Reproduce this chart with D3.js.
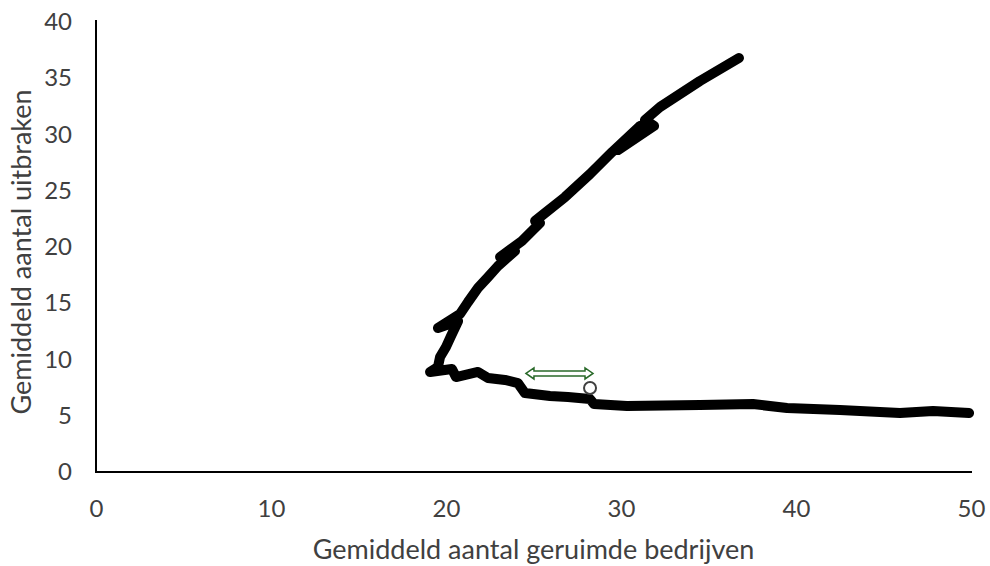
<!DOCTYPE html>
<html>
<head>
<meta charset="utf-8">
<script src="https://cdn.jsdelivr.net/npm/d3@7"></script>
<style>
  html, body { margin: 0; padding: 0; background: #fff; }
  svg { display: block; }
  text { font-family: Lato, "Open Sans", sans-serif; fill: #404040; }
</style>
</head>
<body>
<svg id="chart" width="990" height="566"></svg>
<script>
// Trajectory of the simulated outcome (x: culled farms, y: outbreaks)
const trajX = [36.74, 34.51, 32.23, 31.37, 31.89, 29.83, 31.09, 29.49, 28.23, 26.80,
               25.66, 25.09, 25.37, 24.34, 23.09, 23.94, 22.97, 22.40, 21.83, 21.26,
               20.80, 19.54, 20.69, 20.29, 20.00, 19.66, 19.54, 19.09, 20.34, 20.57,
               21.83, 22.40, 23.37, 24.11, 24.51, 25.94, 26.97, 28.23, 28.46, 30.34,
               34.51, 37.54, 39.49, 42.51, 45.94, 47.83, 49.89];
const trajY = [36.80, 34.76, 32.44, 31.29, 30.76, 28.62, 30.76, 28.44, 26.49, 24.44,
               23.02, 22.31, 22.13, 20.53, 19.11, 19.64, 18.31, 17.33, 16.36, 15.11,
               14.04, 12.80, 13.42, 12.09, 11.11, 10.22, 9.33, 8.89, 9.16, 8.44,
               8.89, 8.36, 8.18, 7.91, 7.02, 6.76, 6.67, 6.49, 6.04, 5.87,
               5.96, 6.04, 5.69, 5.51, 5.24, 5.42, 5.24];

// Marked point and the double arrow above it
const markerPoint = { x: 28.23, y: 7.47 };
const arrowSpan = { x1: 24.57, x2: 28.40, y: 8.76 };

const xTicks = [0, 10, 20, 30, 40, 50];
const yTicks = [0, 5, 10, 15, 20, 25, 30, 35, 40];
const xTitle = "Gemiddeld aantal geruimde bedrijven";
const yTitle = "Gemiddeld aantal uitbraken";

const svg = d3.select("#chart");
const margin = { left: 96, right: 19, top: 22, bottom: 94 };
const W = 990, H = 566;

const x = d3.scaleLinear().domain([0, 50]).range([margin.left, W - margin.right]);
const y = d3.scaleLinear().domain([0, 40]).range([H - margin.bottom, margin.top]);

// Axes: plain lines without tick marks
const xAxis = svg.append("g")
  .attr("transform", `translate(0,${y(0)})`)
  .call(d3.axisBottom(x).tickValues(xTicks).tickSize(0).tickPadding(28).tickFormat(d3.format("d")));
const yAxis = svg.append("g")
  .attr("transform", `translate(${x(0)},0)`)
  .call(d3.axisLeft(y).tickValues(yTicks).tickSize(0).tickPadding(24).tickFormat(d3.format("d")));

[xAxis, yAxis].forEach(g => {
  g.select(".domain").attr("stroke", "#000").attr("stroke-width", 2);
  g.selectAll(".tick text").attr("font-size", 24).attr("fill", "#404040")
    .attr("font-family", "Lato, 'Open Sans', sans-serif");
});
yAxis.select(".domain").attr("d", `M0,${y(40) - 2}V${y(0) + 1}`);
xAxis.select(".domain").attr("d", `M${x(0) - 1},0H${x(50) + 1}`);

// Axis titles
svg.append("text")
  .attr("x", (x(0) + x(50)) / 2)
  .attr("y", 559)
  .attr("text-anchor", "middle")
  .attr("font-size", 27)
  .text(xTitle);

svg.append("text")
  .attr("transform", `translate(31,${(y(0) + y(40)) / 2 + 5}) rotate(-90)`)
  .attr("text-anchor", "middle")
  .attr("font-size", 27)
  .text(yTitle);

// Thick trajectory line
const pts = trajX.map((v, i) => [v, trajY[i]]);
svg.append("path")
  .datum(pts)
  .attr("fill", "none")
  .attr("stroke", "#000")
  .attr("stroke-width", 10)
  .attr("stroke-linejoin", "round")
  .attr("stroke-linecap", "round")
  .attr("d", d3.line().x(d => x(d[0])).y(d => y(d[1])));

// Double-headed block arrow
const ax1 = x(arrowSpan.x1), ax2 = x(arrowSpan.x2), ay = y(arrowSpan.y);
const headL = 8, headH = 5.5, bodyH = 2.5;
const arrowPath = [
  [ax1, ay],
  [ax1 + headL, ay - headH],
  [ax1 + headL, ay - bodyH],
  [ax2 - headL, ay - bodyH],
  [ax2 - headL, ay - headH],
  [ax2, ay],
  [ax2 - headL, ay + headH],
  [ax2 - headL, ay + bodyH],
  [ax1 + headL, ay + bodyH],
  [ax1 + headL, ay + headH]
];
svg.append("path")
  .attr("d", "M" + arrowPath.map(p => p.join(",")).join("L") + "Z")
  .attr("fill", "#fff")
  .attr("stroke", "#2a6a2a")
  .attr("stroke-width", 1.5)
  .attr("stroke-linejoin", "miter");

// Marked point
svg.append("circle")
  .attr("cx", x(markerPoint.x))
  .attr("cy", y(markerPoint.y))
  .attr("r", 6)
  .attr("fill", "#fff")
  .attr("stroke", "#404040")
  .attr("stroke-width", 2);
</script>
</body>
</html>
